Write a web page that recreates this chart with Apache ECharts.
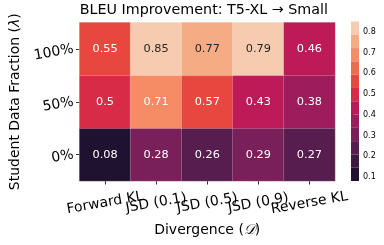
<!DOCTYPE html>
<html>
<head>
<meta charset="utf-8">
<script src="https://cdn.jsdelivr.net/npm/echarts@6/dist/echarts.min.js"></script>
<style>
html,body{margin:0;padding:0;background:#fff;}
#chart{width:384px;height:245px;}
</style>
</head>
<body>
<div id="chart"></div>
<script>
// ---- data ----
const divergences = ['Forward KL', 'JSD (0.1)', 'JSD (0.5)', 'JSD (0.9)', 'Reverse KL'];
const fractions = ['0%', '50%', '100%'];           // bottom -> top
const row0 = [0.08, 0.28, 0.26, 0.29, 0.27];        // 0%
const row50 = [0.5, 0.71, 0.57, 0.43, 0.38];        // 50%
const row100 = [0.55, 0.85, 0.77, 0.79, 0.46];      // 100%
const colorbarTicks = [0.1, 0.2, 0.3, 0.4, 0.5, 0.6, 0.7, 0.8];
const scaleMin = 0.08;
const scaleMax = 0.85;
const levelColors = ['#1f1130', '#3a1a41', '#581d4f', '#791f5a', '#9c1c5c', '#bd1a57',
                     '#d72b48', '#e8473f', '#f06b50', '#f58c66', '#f5ab83', '#f7cbb0'];

const rows = [row0, row50, row100];
const heatData = [];
rows.forEach((r, yi) => r.forEach((v, xi) => heatData.push([xi, yi, v])));

const step = (scaleMax - scaleMin) / levelColors.length;
const pieces = levelColors.map((c, i) => {
  const p = { gte: scaleMin + i * step, color: c };
  if (i < levelColors.length - 1) p.lt = scaleMin + (i + 1) * step; else p.lte = scaleMax + 1;
  if (i === 0) p.gte = -1;
  return p;
});

const FONT = 'DejaVu Sans';
const G = { left: 72.7, top: 22.5, width: 262.3, height: 158.5 };
const CB = { left: 351, top: 21.5, width: 8, height: 159.5 };

const chart = echarts.init(document.getElementById('chart'), null, { renderer: 'canvas' });
chart.setOption({
  animation: false,
  backgroundColor: '#fff',
  textStyle: { fontFamily: FONT },
  title: {
    text: 'BLEU Improvement: T5-XL \u2192 Small',
    left: G.left + G.width / 2, top: 3, textAlign: 'center', padding: 0,
    textStyle: { fontFamily: FONT, fontSize: 14.3, fontWeight: 'normal', color: '#000' }
  },
  grid: [
    { left: G.left, top: G.top, width: G.width, height: G.height },
    { left: CB.left, top: CB.top, width: CB.width, height: CB.height }
  ],
  xAxis: [
    {
      type: 'category', data: divergences, gridIndex: 0,
      axisLine: { show: false },
      axisTick: { show: true, alignWithLabel: true, length: 3.5, lineStyle: { color: '#000', width: 0.8 } },
      axisLabel: { rotate: 10, align: 'center', verticalAlign: 'middle', margin: 22, fontSize: 14, color: '#000', fontFamily: FONT, interval: 0 },
      splitArea: { show: false }, splitLine: { show: false },
      name: 'Divergence ({d|\uD835\uDC9F})', nameLocation: 'middle', nameGap: 49,
      nameTextStyle: { fontSize: 14, color: '#000', fontFamily: FONT, verticalAlign: 'middle',
        rich: { d: { fontSize: 14, color: '#000', fontFamily: FONT, fontStyle: 'italic' } } }
    },
    { type: 'value', gridIndex: 1, show: false, min: 0, max: 1 }
  ],
  yAxis: [
    {
      type: 'category', data: fractions, gridIndex: 0,
      axisLine: { show: false },
      axisTick: { show: true, alignWithLabel: true, length: 3.5, lineStyle: { color: '#000', width: 0.8 } },
      axisLabel: { rotate: 10, align: 'right', verticalAlign: 'middle', margin: 6, fontSize: 14, color: '#000', fontFamily: FONT, padding: [0, 0, 6, 0] },
      splitArea: { show: false }, splitLine: { show: false },
      name: 'Student Data Fraction ({l|\u03BB})', nameLocation: 'middle', nameGap: 60,
      nameTextStyle: { fontSize: 14, color: '#000', fontFamily: FONT, verticalAlign: 'middle',
        rich: { l: { fontSize: 14, color: '#000', fontFamily: FONT, fontStyle: 'italic' } } }
    },
    {
      type: 'value', gridIndex: 1, position: 'right', min: scaleMin, max: scaleMax,
      axisLine: { show: false },
      splitLine: { show: false },
      axisTick: { show: true, length: 2.5, customValues: colorbarTicks, lineStyle: { color: '#000', width: 0.6 } },
      axisLabel: { show: true, customValues: colorbarTicks, fontSize: 8, margin: 4, color: '#000', fontFamily: FONT,
        formatter: v => Number(v).toFixed(1) }
    }
  ],
  visualMap: {
    type: 'piecewise', seriesIndex: 0, pieces: pieces, orient: 'vertical',
    left: CB.left, top: CB.top, itemWidth: CB.width, itemHeight: CB.height / levelColors.length,
    itemGap: 0, showLabel: false, itemSymbol: 'rect', selectedMode: false, hoverLink: false,
    padding: 0, textGap: 0
  },
  series: [{
    type: 'heatmap', xAxisIndex: 0, yAxisIndex: 0, data: heatData,
    itemStyle: { borderColor: 'rgba(255,255,255,0.35)', borderWidth: 0.6 },
    label: {
      show: true, fontSize: 11.3, fontFamily: FONT,
      formatter: p => String(p.value[2]),
      rich: {}
    },
    emphasis: { disabled: true }
  }]
});
// label colour by cell lightness
const opt = chart.getOption();
chart.setOption({
  series: [{
    data: heatData.map(d => ({ value: d, label: { color: d[2] > 0.75 ? '#262626' : '#ffffff' } }))
  }]
});
</script>
</body>
</html>
